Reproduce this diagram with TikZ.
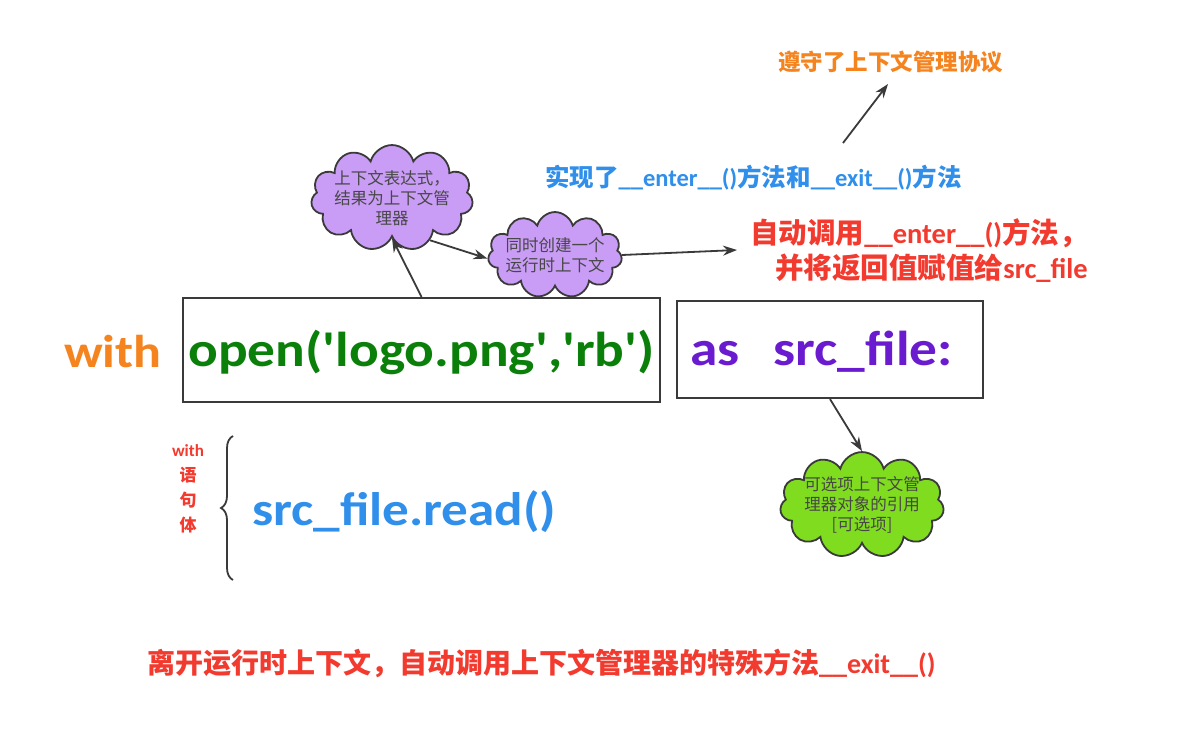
\documentclass[tikz,border=0pt]{standalone}
\usepackage{fontspec}
\usetikzlibrary{shapes.symbols,arrows.meta,decorations.pathreplacing}
\newfontfamily\cn{Noto Sans CJK SC}
\newfontfamily\en{Carlito}
\newfontfamily\enw[FakeStretch=1.13]{Carlito}
\definecolor{cOrange}{HTML}{F5841F}
\definecolor{cGreen}{HTML}{0A800A}
\definecolor{cPurple}{HTML}{6A1BD0}
\definecolor{cBlue}{HTML}{2F8FEA}
\definecolor{cRed}{HTML}{F23A2E}
\definecolor{cViolet}{HTML}{C99CF5}
\definecolor{cLime}{HTML}{80DC1E}
\definecolor{cLine}{HTML}{3A3A3A}
\begin{document}
\begin{tikzpicture}[x=1pt,y=-1pt,
  codebox/.style={draw=cLine,line width=2.2pt,minimum height=104pt,inner sep=0pt},
  bubble/.style={cloud,cloud puffs=11,aspect=1.5,draw=cLine,line width=1.8pt,align=center,inner sep=-14pt,text=black!72,font=\cn\fontsize{16.5}{20}\selectfont},
  arr/.style={draw=cLine,line width=1.8pt,-{Stealth[length=14pt,width=10pt]}},
  big/.style={font=\enw\bfseries\fontsize{49}{52}\selectfont}
]
\useasboundingbox (0,0) rectangle (1196,747);
\fill[white] (0,0) rectangle (1196,747);

% code boxes
\node[codebox,minimum width=477pt] (box1) at (421.5,350) {};
\node[codebox,minimum width=306pt,minimum height=97pt] (box2) at (830,349.5) {};
\node[text=cOrange,anchor=west,inner sep=0pt,font=\enw\bfseries\fontsize{46}{50}\selectfont] (with) at (64,352) {with};
\node[big,text=cGreen,inner sep=0pt] (open) at (421.5,352) {open('logo.png','rb')};
\node[big,text=cPurple,anchor=west,inner sep=0pt] (as) at (690,352) {as\hspace{34pt}src\_file:};

% clouds
\node[bubble,fill=cViolet,minimum width=162pt,minimum height=104pt] (c1) at (392,198) {上下文表达式，\\结果为上下文管\\理器};
\node[bubble,fill=cViolet,minimum width=134pt,minimum height=84pt] (c2) at (555,255) {同时创建一个\\运行时上下文};
\node[bubble,fill=cLime,minimum width=164pt,minimum height=102pt] (c3) at (862,505) {可选项上下文管\\理器对象的引用\\{}[可选项]};

% labels
\node[text=cBlue,anchor=west,inner sep=0pt,font=\bfseries\fontsize{24.5}{28}\selectfont] (impl) at (545,178) {{\cn 实现了}{\en\_\_enter\_\_()}{\cn 方法和}{\en\_\_exit\_\_()}{\cn 方法}};
\node[text=cOrange,anchor=west,inner sep=0pt,font=\cn\bfseries\fontsize{22.5}{26}\selectfont] (proto) at (778,62) {遵守了上下文管理协议};
\node[text=cRed,align=right,anchor=east,inner sep=0pt,font=\bfseries\fontsize{28.5}{35}\selectfont] (auto) at (1088,251) {{\cn 自动调用}{\en\_\_enter\_\_()}{\cn 方法，}\\{\cn 并将返回值赋值给}{\en src\_file}};
\node[text=cBlue,anchor=west,inner sep=0pt,font=\enw\bfseries\fontsize{47}{52}\selectfont] (read) at (252,512) {src\_file.read()};
\node[text=cRed,align=center,inner sep=0pt,font=\bfseries\fontsize{17}{25}\selectfont] (body) at (188,489) {{\en with}\\{\cn 语}\\{\cn 句}\\{\cn 体}};
\node[text=cRed,anchor=west,inner sep=0pt,font=\bfseries\fontsize{28}{32}\selectfont] (leave) at (147,663) {{\cn 离开运行时上下文，自动调用上下文管理器的特殊方法}{\en\_\_exit\_\_()}};

% brace
\coordinate (bt) at (233,436);
\coordinate (bb) at (233,580);
\draw[cLine,line width=1.8pt,decorate,decoration={brace,amplitude=12pt}] (bb) -- (bt);

% free ends
\coordinate (pS) at (843,143);
\coordinate (pE) at (888,84);
\coordinate (aE) at (737,250);

% connectors
\draw[arr] (box1.north) -- (c1.south);
\draw[arr] (c1.312) -- (c2.183);
\draw[arr] (c2.east) -- (aE);
\draw[arr] (pS) -- (pE);
\draw[arr] (box2.south) -- (c3.north);
\end{tikzpicture}
\end{document}
